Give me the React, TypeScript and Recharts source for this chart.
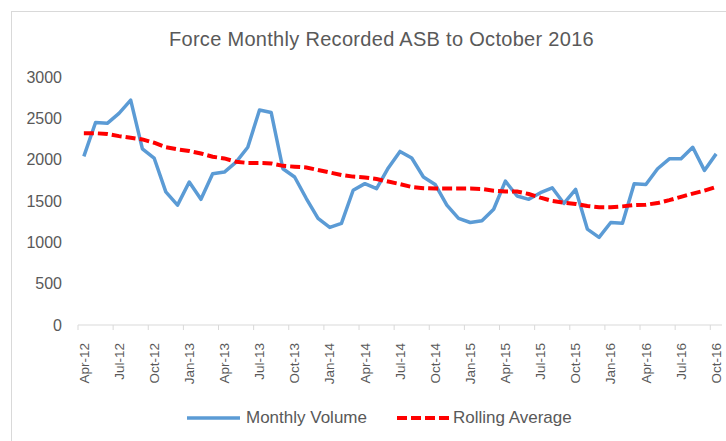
import { Line, LineChart, XAxis, YAxis } from 'recharts';

const months = [
  'Apr-12', 'May-12', 'Jun-12', 'Jul-12', 'Aug-12', 'Sep-12', 'Oct-12', 'Nov-12', 'Dec-12',
  'Jan-13', 'Feb-13', 'Mar-13', 'Apr-13', 'May-13', 'Jun-13', 'Jul-13', 'Aug-13', 'Sep-13', 'Oct-13', 'Nov-13', 'Dec-13',
  'Jan-14', 'Feb-14', 'Mar-14', 'Apr-14', 'May-14', 'Jun-14', 'Jul-14', 'Aug-14', 'Sep-14', 'Oct-14', 'Nov-14', 'Dec-14',
  'Jan-15', 'Feb-15', 'Mar-15', 'Apr-15', 'May-15', 'Jun-15', 'Jul-15', 'Aug-15', 'Sep-15', 'Oct-15', 'Nov-15', 'Dec-15',
  'Jan-16', 'Feb-16', 'Mar-16', 'Apr-16', 'May-16', 'Jun-16', 'Jul-16', 'Aug-16', 'Sep-16', 'Oct-16',
];

const monthlyVolume = [
  2040, 2450, 2440, 2560, 2720, 2130, 2020, 1610, 1450,
  1730, 1520, 1830, 1850, 1970, 2150, 2600, 2570, 1890, 1790, 1530, 1290,
  1180, 1230, 1630, 1710, 1650, 1900, 2100, 2020, 1790, 1700, 1450, 1290,
  1240, 1260, 1400, 1740, 1560, 1520, 1600, 1660, 1470, 1640, 1160, 1060,
  1240, 1230, 1710, 1700, 1890, 2010, 2010, 2150, 1870, 2070,
];

const rollingAverage = [
  2320, 2320, 2310, 2285, 2265, 2245, 2205, 2150, 2125,
  2105, 2075, 2035, 2015, 1975, 1960, 1960, 1955, 1925, 1915, 1905, 1875,
  1845, 1815, 1795, 1785, 1765, 1735, 1705, 1670, 1655, 1650, 1650, 1650,
  1650, 1645, 1625, 1615, 1615, 1585, 1540, 1500, 1480, 1465, 1440, 1425,
  1425, 1435, 1450, 1455, 1475, 1510, 1550, 1590, 1625, 1670,
];

const yTicks = [0, 500, 1000, 1500, 2000, 2500, 3000];

const data = months.map((month, i) => ({
  month,
  volume: monthlyVolume[i],
  rolling: rollingAverage[i],
}));

const W = 726;
const H = 441;
const PLOT_LEFT = 78;
const PLOT_RIGHT = 722;
const HALF_STEP = (PLOT_RIGHT - PLOT_LEFT) / months.length / 2;
const TEXT = '#595959';
const FONT = '"Liberation Sans", Arial, sans-serif';

function MonthTick({ x, y, payload }: any) {
  return (
    <g>
      <line x1={x - HALF_STEP} x2={x - HALF_STEP} y1={y} y2={y + 5} stroke="#d9d9d9" />
      <text
        x={x}
        y={y}
        dx={-18}
        dy="0.35em"
        transform={`rotate(-90, ${x}, ${y})`}
        textAnchor="end"
        fill={TEXT}
        fontSize={13.5}
        fontFamily={FONT}
      >
        {payload.value}
      </text>
    </g>
  );
}

export default function App() {
  return (
    <div style={{ position: 'absolute', left: 0, top: 0, width: W, height: H, background: '#fff', overflow: 'hidden', fontFamily: FONT }}>
      <div style={{ position: 'absolute', left: 11, top: 11, width: W, height: H, borderLeft: '1px solid #d9d9d9', borderTop: '1px solid #d9d9d9' }} />
      <div style={{ position: 'absolute', left: 0, width: 763, top: 27, textAlign: 'center', fontSize: 20, letterSpacing: 0.3, color: TEXT, lineHeight: '24px' }}>
        Force Monthly Recorded ASB to October 2016
      </div>
      <div style={{ position: 'absolute', left: 0, top: 0 }}>
        <LineChart width={W} height={H} data={data} margin={{ top: 77, right: W - PLOT_RIGHT, left: 18, bottom: 66 }}>
          <XAxis
            dataKey="month"
            interval={2}
            tick={<MonthTick />}
            tickLine={false}
            tickSize={0}
            tickMargin={0}
            height={50}
            padding={{ left: HALF_STEP, right: HALF_STEP }}
            axisLine={{ stroke: '#d9d9d9' }}
          />
          <YAxis
            width={60}
            domain={[0, 3000]}
            ticks={yTicks}
            axisLine={false}
            tickLine={false}
            tickSize={0}
            tickMargin={16}
            tick={{ fontSize: 16, fill: TEXT, fontFamily: FONT }}
          />
          <Line dataKey="volume" stroke="#5B9BD5" strokeWidth={3.5} dot={false} strokeLinejoin="round" isAnimationActive={false} />
          <Line dataKey="rolling" stroke="#FF0000" strokeWidth={4} strokeDasharray="10 4" dot={false} isAnimationActive={false} />
        </LineChart>
      </div>
      <div style={{ position: 'absolute', left: 187, top: 407, display: 'flex', alignItems: 'center', fontSize: 17, color: TEXT, lineHeight: '22px' }}>
        <svg width={53} height={8} style={{ marginRight: 6 }}>
          <line x1={0} x2={53} y1={4} y2={4} stroke="#5B9BD5" strokeWidth={3.5} />
        </svg>
        <span>Monthly Volume</span>
        <svg width={53} height={8} style={{ marginLeft: 30, marginRight: 3 }}>
          <line x1={0} x2={53} y1={4} y2={4} stroke="#FF0000" strokeWidth={4} strokeDasharray="10 4" />
        </svg>
        <span>Rolling Average</span>
      </div>
    </div>
  );
}
